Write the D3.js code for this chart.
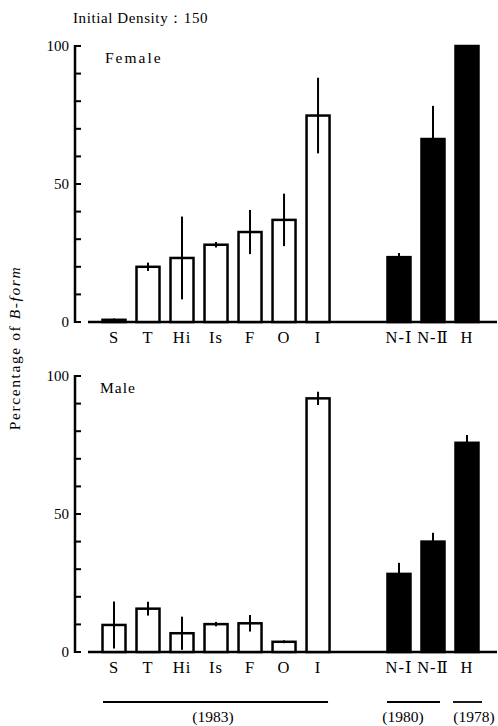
<!DOCTYPE html>
<html><head><meta charset="utf-8">
<script src="https://cdn.jsdelivr.net/npm/d3@7"></script>
<style>body{margin:0;background:#fff}svg{display:block}text{font-family:"Liberation Serif","DejaVu Serif",serif;fill:#000}</style>
</head><body>
<script>
const categories = ["S","T","Hi","Is","F","O","I","N-Ⅰ","N-Ⅱ","H"];
const filled = [false,false,false,false,false,false,false,true,true,true];
const femaleValues = [0.8,20,23.2,28,32.6,37,74.8,23.5,66.3,100];
const femaleErrors = [0.5,1.5,15,1,8,9.5,13.7,1.5,12,0];
const maleValues = [9.8,15.7,6.8,10.1,10.4,3.7,91.9,28.3,40,75.8];
const maleErrors = [8.5,2.5,6,0.8,3,0.5,2.4,4,3.2,2.8];
const yTicks = [0,50,100];
const panels = ["Female","Male"];
const yearGroups = [{label:"(1983)",from:"S",to:"I"},{label:"(1980)",from:"N-Ⅰ",to:"N-Ⅱ"},{label:"(1978)",from:"H",to:"H"}];

const W=498,H=726;
const svg=d3.select("body").append("svg").attr("width",W).attr("height",H);
const gapExtra=1.38;
const pos=i=>i+(i>=7?gapExtra:0);
const x=d3.scaleLinear().domain([0,9+gapExtra]).range([114,467]);
const bw=23;

svg.append("text").attr("x",73).attr("y",23).attr("font-size",15).attr("letter-spacing",0.6).text("Initial Density：150");
svg.append("text").attr("transform","translate(20,348) rotate(-90)").attr("text-anchor","middle").attr("font-size",15.5).attr("letter-spacing",1.6)
  .call(t=>{t.append("tspan").text("Percentage of ");t.append("tspan").attr("font-style","italic").text("B-form");});

function panel(top,name,vals,errs){
  const y=d3.scaleLinear().domain([0,100]).range([top+276,top]);
  const g=svg.append("g");
  g.append("line").attr("x1",75).attr("x2",75).attr("y1",y(100)-1).attr("y2",y(0)+1).attr("stroke","#000").attr("stroke-width",2.5);
  d3.range(0,101,10).forEach(v=>{
    g.append("line").attr("x1",75).attr("x2",81).attr("y1",y(v)).attr("y2",y(v)).attr("stroke","#000").attr("stroke-width",2);
  });
  yTicks.forEach(v=>{
    g.append("text").attr("x",69).attr("y",y(v)+5).attr("text-anchor","end").attr("font-size",15).text(v);
  });
  g.append("line").attr("x1",88).attr("x2",497).attr("y1",y(0)).attr("y2",y(0)).attr("stroke","#000").attr("stroke-width",2.5);
  g.append("text").attr("x",top<100?105:100).attr("y",top+17).attr("font-size",15.5).attr("letter-spacing",top<100?2:1).text(name);
  categories.forEach((c,i)=>{
    const cx=x(pos(i));
    g.append("rect").attr("x",cx-bw/2).attr("y",y(vals[i])).attr("width",bw).attr("height",y(0)-y(vals[i]))
      .attr("fill",filled[i]?"#000":"#fff").attr("stroke","#000").attr("stroke-width",2.5);
    if(errs[i]>0){
      g.append("line").attr("x1",cx).attr("x2",cx).attr("y1",y(vals[i]+errs[i])).attr("y2",y(Math.max(0,vals[i]-errs[i])))
        .attr("stroke","#000").attr("stroke-width",2);
    }
    g.append("text").attr("x",cx).attr("y",y(0)+21).attr("text-anchor","middle").attr("font-size",16.5).attr("letter-spacing",1).text(c);
  });
  return y;
}
panel(46,panels[0],femaleValues,femaleErrors);
panel(376,panels[1],maleValues,maleErrors);

yearGroups.forEach(gr=>{
  const i0=categories.indexOf(gr.from),i1=categories.indexOf(gr.to);
  const single=gr.from===gr.to, first=i0===0;
  const x0=first?x(pos(i0))-11:(single?x(pos(i0))-14:x(pos(i0))-12);
  const x1=first?x(pos(i1))+10:(single?x(pos(i1))+15:x(pos(i1))+7);
  svg.append("line").attr("x1",x0).attr("x2",x1).attr("y1",702).attr("y2",702).attr("stroke","#000").attr("stroke-width",1.8);
  const cx=first?213:(single?474:403);
  svg.append("text").attr("x",cx).attr("y",722).attr("text-anchor","middle").attr("font-size",15.5).text(gr.label);
});
</script>
</body></html>
